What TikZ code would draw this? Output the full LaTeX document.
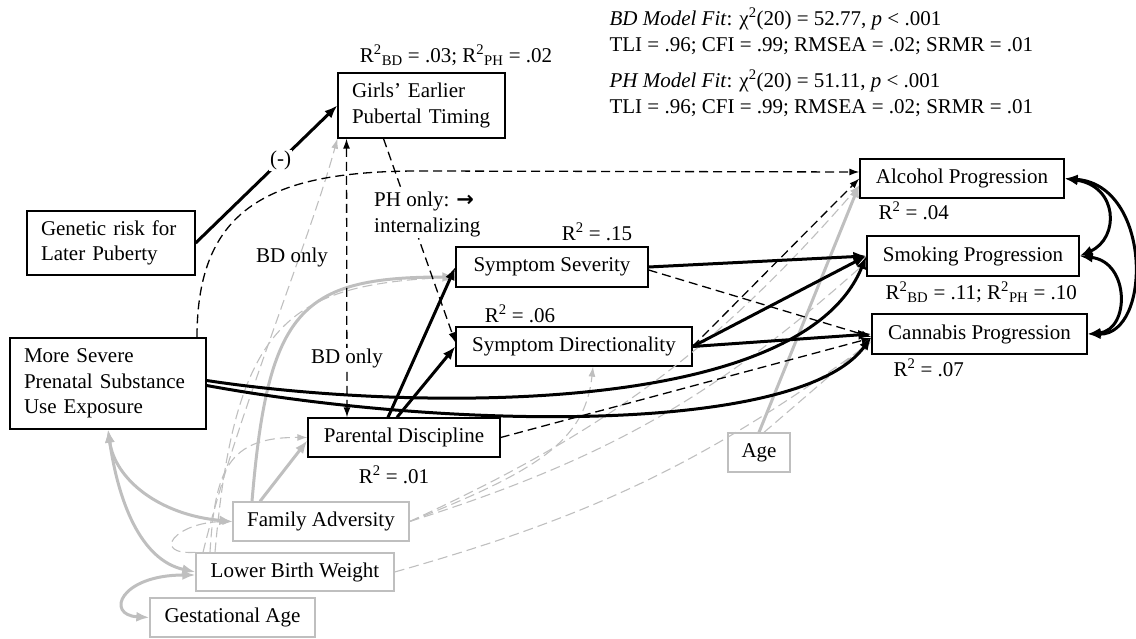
\documentclass[tikz,border=0pt]{standalone}
\usepackage{fontspec}
\setmainfont{Liberation Serif}
\newfontfamily\arrowfont{DejaVu Sans}
\usetikzlibrary{arrows.meta,positioning}
\definecolor{covar}{HTML}{BFBFBF}

\begin{document}
\begin{tikzpicture}[x=1pt,y=1pt,
    every node/.style={font=\fontsize{21}{25.5}\selectfont},
    box/.style={draw,line width=1.3pt,inner sep=0pt,minimum height=39pt},
    covbox/.style={box,draw=covar},
    wrapbox/.style={box,text width=#1,inner xsep=14pt,align=left},
    sig/.style={line width=3pt,-{Latex[length=13pt,width=10pt]}},
    corr/.style={line width=3pt,{Latex[length=13pt,width=10pt]}-{Latex[length=13pt,width=10pt]}},
    ns/.style={line width=1.3pt,dash pattern=on 9pt off 5pt,-{Latex[length=10pt,width=7pt]}},
    covns/.style={ns,draw=covar,line width=1.1pt,dash pattern=on 10pt off 5pt},
    covsig/.style={sig,draw=covar},
    covcorr/.style={corr,draw=covar},
    fitnote/.style={anchor=west,align=left,font=\fontsize{21}{26}\selectfont}]
    \path[use as bounding box] (0,0) rectangle (1136,638);

    % variables
    \node[wrapbox=139pt,minimum height=65pt] (girls) at (421.5,532.5) {Girls’ Earlier\\Pubertal Timing};
    \node[wrapbox=140pt,minimum height=64pt] (genetic) at (111,395) {Genetic risk for\\Later Puberty};
    \node[wrapbox=168pt,minimum height=91pt] (prenatal) at (108,254.5) {More Severe\\Prenatal Substance\\Use Exposure};
    \node[box,minimum width=192pt,minimum height=40pt] (severity) at (552,371) {Symptom Severity};
    \node[box,minimum width=236pt] (direction) at (574,291.5) {Symptom Directionality};
    \node[box,minimum width=192pt] (discipline) at (404,200.5) {Parental Discipline};
    \node[covbox,minimum width=176pt] (adversity) at (321,116.5) {Family Adversity};
    \node[covbox,minimum width=198pt,minimum height=38pt] (birthwt) at (295,66) {Lower Birth Weight};
    \node[covbox,minimum width=165pt] (gestage) at (232.5,20.5) {Gestational Age};
    \node[box,minimum width=204pt] (alcohol) at (962,459.5) {Alcohol Progression};
    \node[box,minimum width=212pt,minimum height=40pt] (smoking) at (973,382) {Smoking Progression};
    \node[box,minimum width=215pt,minimum height=40pt] (cannabis) at (979.5,304) {Cannabis Progression};
    \node[covbox,minimum width=62pt] (age) at (759,185.5) {Age};

    % covariates
    \draw[covns] ([xshift=-92pt]birthwt.north) .. controls (235,218) and (310,398) .. (girls.south west);
    \draw[covns] ([xshift=-85pt]birthwt.north) .. controls (215,168) and (228,201) .. (discipline.west);
    \draw[covns] ([xshift=-80pt]birthwt.north) .. controls (235,318) and (290,353) .. ([yshift=-10pt]severity.west);
    \draw[covns] (birthwt.north west) .. controls (150,83) and (175,116) .. (adversity.west);
    \draw[covns] (adversity.east) to[bend right=12] ([yshift=-7pt]alcohol.west);
    \draw[covns] (adversity.east) to[bend right=12] ([yshift=-6pt]smoking.west);
    \draw[covns] (birthwt.east) to[bend right=10] ([yshift=-8pt]cannabis.west);
    \draw[covns] (adversity.east) .. controls (540,168) and (585,198) .. ([xshift=19pt]direction.south);
    \draw[covns] ([xshift=5pt]age.north) -- ([yshift=-6pt]cannabis.west);
    \draw[covsig] ([xshift=-69pt]adversity.north) .. controls (268,328) and (300,361) .. ([yshift=-10pt]severity.west);
    \draw[covsig] ([xshift=-61pt]adversity.north) -- ([yshift=-3pt]discipline.west);
    \draw[covcorr] (prenatal.south) .. controls (115,158) and (160,123) .. (adversity.west);
    \draw[covcorr] (prenatal.south) .. controls (118,138) and (140,78) .. (birthwt.west);
    \draw[covcorr] ([yshift=-3pt]birthwt.west) .. controls (120,63) and (105,23) .. (gestage.west);
    \draw[covsig] (age.north) -- ([yshift=-6pt]alcohol.west);

    % non-significant / model-specific paths
    \draw[ns] ([xshift=89pt]prenatal.north) .. controls +(0,130) and +(-150,0) .. (420,467) -- ([yshift=6.5pt]alcohol.west);
    \draw[ns] ([xshift=-38pt]girls.south) -- ([yshift=4pt]direction.west);
    \draw[ns] ([yshift=-3pt]severity.east) -- ([yshift=-3pt]cannabis.west);
    \draw[ns] (direction.east) -- (alcohol.west);
    \draw[ns] (discipline.east) -- ([yshift=-4pt]cannabis.west);
    \draw[ns,{Latex[length=10pt,width=7pt]}-{Latex[length=10pt,width=7pt]}] ([xshift=-75pt]girls.south)
      -- node[pos=.79,fill=white,inner sep=1pt] {BD only} ([xshift=-57pt]discipline.north);

    % significant paths
    \draw[sig] (genetic.east) -- node[pos=.6,fill=white,inner sep=1pt] {(-)} (girls.west);
    \draw[sig] ([xshift=-16pt]discipline.north) -- (severity.west);
    \draw[sig] ([xshift=-7pt]discipline.north) -- (direction.west);
    \foreach \src/\dst in {severity/smoking,direction/smoking,direction/cannabis}
      \draw[sig] (\src.east) -- (\dst.west);
    \draw[sig] ([yshift=3pt]prenatal.east) .. controls (400,228) and (800,218) .. (smoking.west);
    \draw[sig] ([yshift=-2pt]prenatal.east) .. controls (450,208) and (800,203) .. ([yshift=-3pt]cannabis.west);
    \draw[corr] (alcohol.east) .. controls (1118,452) and (1120,400) .. (smoking.east);
    \draw[corr] (smoking.east) .. controls (1130,376) and (1130,308) .. (cannabis.east);
    \draw[corr] (alcohol.east) .. controls (1152,453) and (1152,303) .. (cannabis.east);

    % labels
    \node[fill=white,inner sep=1pt,align=left,anchor=west] (phnote) at (373,423.5) {PH only: {\arrowfont\bfseries →}\\internalizing};
    \node (bdnote) at (292,381) {BD only};
    \node (r2girls) at (456,583) {R\textsuperscript{2}\textsubscript{BD} = .03; R\textsuperscript{2}\textsubscript{PH} = .02};
    \node (r2sev) at (597,406) {R\textsuperscript{2} = .15};
    \node (r2dir) at (520,324) {R\textsuperscript{2} = .06};
    \node (r2disc) at (394,163) {R\textsuperscript{2} = .01};
    \node[anchor=west] (r2alc) at (875,427) {R\textsuperscript{2} = .04};
    \node[anchor=west] (r2smk) at (882,346) {R\textsuperscript{2}\textsubscript{BD} = .11; R\textsuperscript{2}\textsubscript{PH} = .10};
    \node[anchor=west] (r2can) at (890,270) {R\textsuperscript{2} = .07};
    \node[fitnote] (fitbd) at (606,606.5) {\textit{BD Model Fit}: χ\textsuperscript{2}(20) = 52.77, \textit{p} < .001\\TLI = .96; CFI = .99; RMSEA = .02; SRMR = .01};
    \node[fitnote] (fitph) at (606,544.5) {\textit{PH Model Fit}: χ\textsuperscript{2}(20) = 51.11, \textit{p} < .001\\TLI = .96; CFI = .99; RMSEA = .02; SRMR = .01};
  \end{tikzpicture}
\end{document}
